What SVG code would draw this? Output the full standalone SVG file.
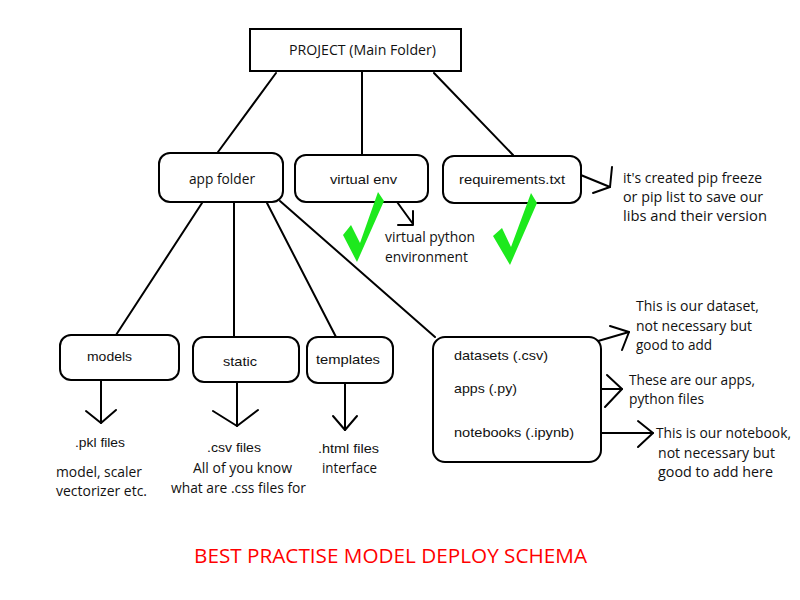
<svg xmlns="http://www.w3.org/2000/svg" width="800" height="600" viewBox="0 0 800 600">
<style>
.box{fill:#fff;stroke:#000;stroke-width:2}
.ln{fill:none;stroke:#000;stroke-width:2;stroke-linecap:round;stroke-linejoin:round}
.t{font-family:"Open Sans","Liberation Sans",sans-serif;font-size:14px;fill:#111}
.th{font-family:"Liberation Sans","DejaVu Sans",sans-serif;font-size:13px;fill:#111}
.chk{fill:#1de91d}
.title{font-family:"Open Sans","Liberation Sans",sans-serif;font-size:20px;fill:#ff0000}
</style>
<rect width="800" height="600" fill="#fff"/>

<g id="connectors">
  <line class="ln" x1="276" y1="73" x2="218" y2="152"/>
  <line class="ln" x1="362" y1="72" x2="362" y2="154"/>
  <line class="ln" x1="434" y1="73" x2="513" y2="155"/>
  <line class="ln" x1="202" y1="203" x2="116" y2="335"/>
  <line class="ln" x1="234" y1="203" x2="234" y2="337"/>
  <line class="ln" x1="267" y1="203" x2="336" y2="337"/>
  <line class="ln" x1="280" y1="201" x2="435" y2="337"/>
  <!-- requirements arrow -->
  <polyline class="ln" points="571,171 610,187"/>
  <polyline class="ln" points="612,167 610,187 593,193"/>
  <!-- virtual env arrow -->
  <polyline class="ln" points="392,195 413,224"/>
  <polyline class="ln" points="413,211 413,225 398,225"/>
  <!-- models arrow -->
  <line class="ln" x1="101" y1="369" x2="101" y2="423"/>
  <polyline class="ln" points="86,411 101,423 116,410"/>
  <!-- static arrow -->
  <line class="ln" x1="237" y1="370" x2="237" y2="426"/>
  <polyline class="ln" points="213,411 237,426 258,410"/>
  <!-- templates arrow -->
  <line class="ln" x1="345" y1="377" x2="345" y2="430"/>
  <polyline class="ln" points="333,416 345,430 357,416"/>
  <!-- datasets arrow -->
  <line class="ln" x1="550" y1="355" x2="629" y2="332"/>
  <polyline class="ln" points="610,326 629,332 622,350"/>
  <!-- apps arrow -->
  <line class="ln" x1="523" y1="389" x2="622" y2="389"/>
  <polyline class="ln" points="607,375 622,389 605,407"/>
  <!-- notebooks arrow -->
  <line class="ln" x1="575" y1="433" x2="653" y2="433"/>
  <polyline class="ln" points="638,421 653,433 638,447"/>
</g>

<g id="project">
  <rect class="box" x="250" y="29" width="211" height="42"/>
  <text class="t" x="289" y="55" textLength="147" lengthAdjust="spacingAndGlyphs">PROJECT (Main Folder)</text>
</g>

<g id="app-folder">
  <rect class="box" x="159" y="153" width="124" height="49" rx="11"/>
  <text class="t" x="189" y="184" textLength="66" lengthAdjust="spacingAndGlyphs">app folder</text>
</g>

<g id="virtual-env">
  <rect class="box" x="295" y="155" width="133" height="47" rx="11"/>
  <text class="th" x="330" y="184" textLength="67" lengthAdjust="spacingAndGlyphs">virtual env</text>
</g>

<g id="requirements">
  <rect class="box" x="443" y="156" width="138" height="47" rx="11"/>
  <text class="th" x="459" y="184" textLength="106" lengthAdjust="spacingAndGlyphs">requirements.txt</text>
</g>

<g id="requirements-note">
  <text class="t" x="623" y="183" textLength="139" lengthAdjust="spacingAndGlyphs">it's created pip freeze</text>
  <text class="t" x="623" y="202" textLength="140" lengthAdjust="spacingAndGlyphs">or pip list to save our</text>
  <text class="t" x="623" y="221" textLength="144" lengthAdjust="spacingAndGlyphs">libs and their version</text>
</g>

<g id="checks">
  <polygon class="chk" points="343,235 351,225 360,243 378,192 384,201 357,262"/>
  <polygon class="chk" points="493,236 502,228 511,247 531,193 537,203 510,265"/>
</g>

<g id="venv-note">
  <text class="t" x="385" y="242" textLength="90" lengthAdjust="spacingAndGlyphs">virtual python</text>
  <text class="t" x="385" y="262" textLength="83" lengthAdjust="spacingAndGlyphs">environment</text>
</g>

<g id="models">
  <rect class="box" x="60" y="335" width="119" height="45" rx="11"/>
  <text class="th" x="87" y="361" textLength="45" lengthAdjust="spacingAndGlyphs">models</text>
  <text class="th" x="75" y="447" textLength="50" lengthAdjust="spacingAndGlyphs">.pkl files</text>
  <text class="t" x="56" y="477" textLength="86" lengthAdjust="spacingAndGlyphs">model, scaler</text>
  <text class="t" x="56" y="496" textLength="91" lengthAdjust="spacingAndGlyphs">vectorizer etc.</text>
</g>

<g id="static">
  <rect class="box" x="193" y="337" width="106" height="45" rx="11"/>
  <text class="th" x="223" y="366" textLength="34" lengthAdjust="spacingAndGlyphs">static</text>
  <text class="th" x="207" y="452" textLength="54" lengthAdjust="spacingAndGlyphs">.csv files</text>
  <text class="t" x="193" y="473" textLength="99" lengthAdjust="spacingAndGlyphs">All of you know</text>
  <text class="t" x="171" y="493" textLength="135" lengthAdjust="spacingAndGlyphs">what are .css files for</text>
</g>

<g id="templates">
  <rect class="box" x="307" y="337" width="86" height="46" rx="11"/>
  <text class="th" x="316" y="364" textLength="64" lengthAdjust="spacingAndGlyphs">templates</text>
  <text class="th" x="318" y="453" textLength="61" lengthAdjust="spacingAndGlyphs">.html files</text>
  <text class="t" x="322" y="473" textLength="55" lengthAdjust="spacingAndGlyphs">interface</text>
</g>

<g id="app-contents">
  <rect class="box" x="433" y="337" width="168" height="125" rx="12"/>
  <text class="th" x="454" y="360" textLength="94" lengthAdjust="spacingAndGlyphs">datasets (.csv)</text>
  <text class="th" x="454" y="393" textLength="63" lengthAdjust="spacingAndGlyphs">apps (.py)</text>
  <text class="th" x="454" y="437" textLength="120" lengthAdjust="spacingAndGlyphs">notebooks (.ipynb)</text>
</g>

<g id="datasets-note">
  <text class="t" x="636" y="311" textLength="123" lengthAdjust="spacingAndGlyphs">This is our dataset,</text>
  <text class="t" x="636" y="331" textLength="116" lengthAdjust="spacingAndGlyphs">not necessary but</text>
  <text class="t" x="636" y="350" textLength="76" lengthAdjust="spacingAndGlyphs">good to add</text>
</g>

<g id="apps-note">
  <text class="t" x="629" y="385" textLength="126" lengthAdjust="spacingAndGlyphs">These are our apps,</text>
  <text class="t" x="629" y="404" textLength="75" lengthAdjust="spacingAndGlyphs">python files</text>
</g>

<g id="notebooks-note">
  <text class="t" x="656" y="438" textLength="135" lengthAdjust="spacingAndGlyphs">This is our notebook,</text>
  <text class="t" x="658" y="458" textLength="117" lengthAdjust="spacingAndGlyphs">not necessary but</text>
  <text class="t" x="658" y="477" textLength="115" lengthAdjust="spacingAndGlyphs">good to add here</text>
</g>

<g id="title">
  <text class="title" x="194" y="563" textLength="393" lengthAdjust="spacingAndGlyphs">BEST PRACTISE MODEL DEPLOY SCHEMA</text>
</g>
</svg>
